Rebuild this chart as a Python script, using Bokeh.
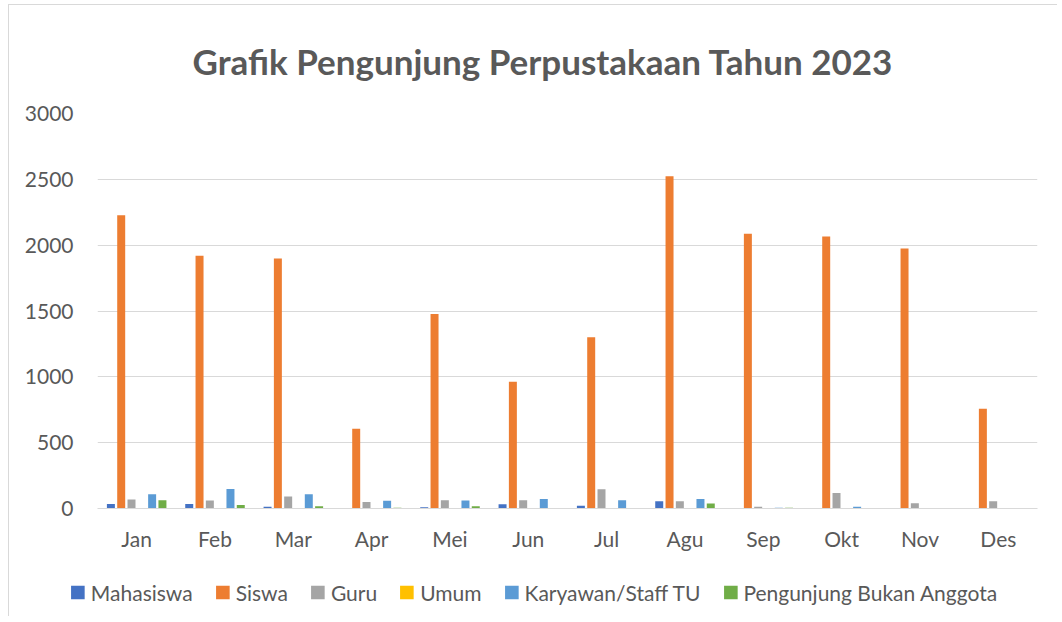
from bokeh.plotting import figure
from bokeh.layouts import column
from bokeh.models import ColumnDataSource, Legend, LegendItem, SingleIntervalTicker
from bokeh.transform import dodge
from bokeh.embed import file_html
from bokeh.resources import INLINE

months = ["Jan", "Feb", "Mar", "Apr", "Mei", "Jun", "Jul", "Agu", "Sep", "Okt", "Nov", "Des"]
mahasiswa = [35, 35, 13, 0, 10, 33, 20, 55, 0, 0, 0, 0]
siswa = [2227, 1919, 1898, 606, 1477, 962, 1300, 2523, 2086, 2065, 1974, 758]
guru = [68, 61, 91, 50, 63, 63, 146, 55, 13, 118, 40, 55]
umum = [0, 0, 0, 0, 0, 0, 0, 0, 0, 0, 0, 0]
karyawan = [108, 148, 108, 58, 61, 73, 63, 73, 5, 13, 0, 0]
bukan_anggota = [63, 27, 17, 5, 17, 0, 3, 38, 5, 3, 3, 0]

series_names = ["Mahasiswa", "Siswa", "Guru", "Umum", "Karyawan/Staff TU", "Pengunjung Bukan Anggota"]
series_values = [mahasiswa, siswa, guru, umum, karyawan, bukan_anggota]
colors = ["#4472C4", "#ED7D31", "#A5A5A5", "#FFC000", "#5B9BD5", "#70AD47"]

FONT = "Lato"
TXT = "#595959"
GRID = "#D9D9D9"

data = {"month": months}
keys = ["s%d" % i for i in range(6)]
for k, v in zip(keys, series_values):
    data[k] = v
src = ColumnDataSource(data)

p = figure(x_range=months, y_range=(0, 3000), frame_width=940, frame_height=395,
           output_backend="svg", toolbar_location=None,
           min_border_left=88, min_border_right=20, min_border_top=108, min_border_bottom=60)

step = 0.1316
bw = 0.102
for i, (k, c) in enumerate(zip(keys, colors)):
    p.vbar(x=dodge("month", (i - 2.5) * step, range=p.x_range), top=k, width=bw,
           source=src, fill_color=c, line_color=None)

p.title.text = "Grafik Pengunjung Perpustakaan Tahun 2023"
p.title.text_font = FONT
p.title.text_font_size = "35px"
p.title.text_font_style = "bold"
p.title.text_color = TXT
p.title.align = "left"
p.title.offset = 95
p.title.standoff = 63

p.outline_line_color = None
p.xgrid.grid_line_color = None
p.ygrid.grid_line_color = GRID
p.ygrid.grid_line_width = 1

p.yaxis.ticker = SingleIntervalTicker(interval=500)
p.yaxis.axis_line_color = None
p.yaxis.major_tick_line_color = None
p.yaxis.minor_tick_line_color = None
p.yaxis.major_label_text_font = FONT
p.yaxis.major_label_text_font_size = "21px"
p.yaxis.major_label_text_color = TXT
p.yaxis.major_label_standoff = 18

p.xaxis.axis_line_color = GRID
p.xaxis.major_tick_line_color = None
p.xaxis.minor_tick_line_color = None
p.xaxis.major_label_text_font = FONT
p.xaxis.major_label_text_font_size = "21px"
p.xaxis.major_label_text_color = TXT
p.xaxis.major_label_standoff = 11

# legend strip below the chart (its bars lie outside its visible range)
lg = figure(x_range=months, y_range=(10000, 10001), frame_width=1031, frame_height=48,
            output_backend="svg", toolbar_location=None, x_axis_type=None, y_axis_type=None,
            min_border_left=17, min_border_right=0, min_border_top=0, min_border_bottom=0)
lg.outline_line_color = None
lg.grid.grid_line_color = None
items = []
for i, (k, name, c) in enumerate(zip(keys, series_names, colors)):
    r = lg.vbar(x=dodge("month", (i - 2.5) * step, range=lg.x_range), top=k, width=bw,
                source=src, fill_color=c, line_color=None)
    items.append(LegendItem(label=name, renderers=[r]))

legend = Legend(items=items, orientation="horizontal", location="center",
                label_text_font=FONT, label_text_font_size="21px", label_text_color=TXT,
                glyph_width=17, glyph_height=17, label_standoff=5, spacing=21,
                border_line_color=None, background_fill_alpha=0, margin=0, padding=0)
lg.add_layout(legend, "center")

layout = column(p, lg, spacing=0)
layout.styles = {"margin-left": "8px", "margin-top": "4px",
                 "border-left": "1px solid #D9D9D9", "border-top": "1px solid #D9D9D9"}

open("out.html", "w").write(file_html(layout, INLINE))
